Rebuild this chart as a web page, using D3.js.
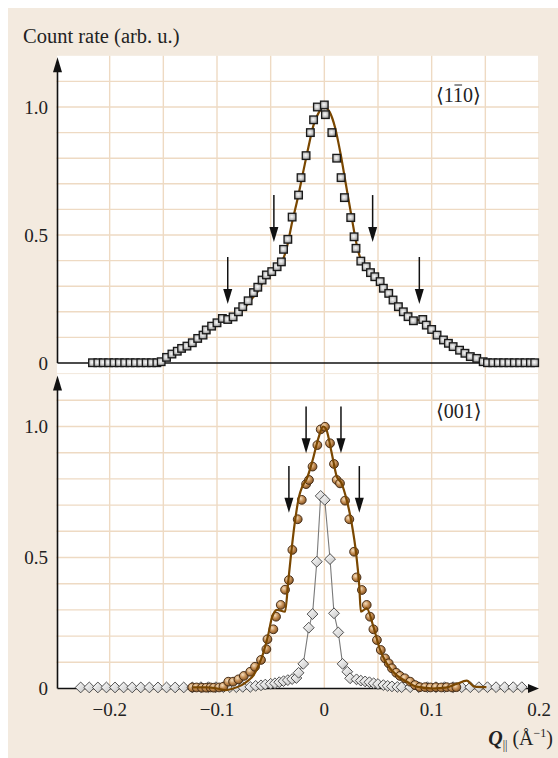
<!DOCTYPE html>
<html>
<head>
<meta charset="utf-8">
<script src="https://cdn.jsdelivr.net/npm/d3@7"></script>
<style>
  body { margin: 0; background: #fff; }
  text { font-family: "Liberation Serif", "DejaVu Serif", serif; fill: #222; }
</style>
</head>
<body>
<svg id="chart" width="558" height="758"></svg>
<script>
// top panel <1-10>: measured squares
var topX = [-0.216, -0.211, -0.206, -0.201, -0.196, -0.191, -0.186, -0.181, -0.176, -0.171, -0.166, -0.161, -0.156,
  -0.152, -0.147, -0.142, -0.137, -0.133, -0.128, -0.123, -0.118, -0.113, -0.110, -0.105, -0.100, -0.095, -0.090,
  -0.085, -0.080, -0.076, -0.071, -0.066, -0.062, -0.058, -0.054, -0.049, -0.044, -0.040, -0.038, -0.034, -0.030,
  -0.024, -0.0217, -0.017, -0.013, -0.010, -0.0065, 0.000, 0.001, 0.007, 0.0115, 0.0156, 0.0187, 0.0246, 0.0277,
  0.0295, 0.034, 0.039, 0.043, 0.047, 0.052, 0.055, 0.060, 0.064, 0.069, 0.0736, 0.078, 0.083, 0.0917, 0.095,
  0.100, 0.105, 0.111, 0.1156, 0.120, 0.126, 0.131, 0.136, 0.142, 0.148, 0.152, 0.157, 0.162, 0.167, 0.172,
  0.177, 0.182, 0.187, 0.192, 0.196];
var topY = [0.001, 0.001, 0.001, 0.001, 0.001, 0.001, 0.001, 0.001, 0.001, 0.001, 0.001, 0.001, 0.001,
  0.005, 0.022, 0.035, 0.046, 0.057, 0.066, 0.079, 0.096, 0.109, 0.129, 0.144, 0.157, 0.174, 0.170,
  0.180, 0.200, 0.220, 0.243, 0.275, 0.296, 0.324, 0.344, 0.357, 0.376, 0.395, 0.444, 0.483, 0.570,
  0.656, 0.724, 0.810, 0.900, 0.950, 1.000, 1.008, 0.970, 0.900, 0.800, 0.724, 0.646, 0.568, 0.493,
  0.448, 0.398, 0.376, 0.353, 0.337, 0.318, 0.292, 0.272, 0.246, 0.220, 0.200, 0.181, 0.165, 0.170, 0.148,
  0.131, 0.109, 0.090, 0.077, 0.064, 0.050, 0.038, 0.025, 0.018, 0.005, 0.001, 0.001, 0.001, 0.001, 0.001,
  0.001, 0.001, 0.001, 0.001, 0.001];

// top panel fit curve
var topFitX = [-0.153, -0.145, -0.135, -0.125, -0.115, -0.105, -0.097, -0.090, -0.083, -0.075, -0.068, -0.062,
  -0.057, -0.050, -0.044, -0.039, -0.035, -0.030, -0.025, -0.020, -0.015, -0.010, -0.005, 0.000, 0.005, 0.010,
  0.015, 0.020, 0.025, 0.030, 0.035, 0.040, 0.045, 0.050, 0.055, 0.060, 0.065, 0.070, 0.075, 0.080, 0.085,
  0.090, 0.095, 0.100, 0.105, 0.110, 0.115, 0.120, 0.125, 0.130, 0.135, 0.140, 0.145, 0.150, 0.200];
var topFitY = [0.000, 0.020, 0.045, 0.070, 0.100, 0.140, 0.163, 0.170, 0.183, 0.212, 0.248, 0.280,
  0.318, 0.350, 0.375, 0.400, 0.450, 0.550, 0.640, 0.740, 0.840, 0.930, 0.980, 1.000, 0.980, 0.920,
  0.820, 0.700, 0.580, 0.465, 0.392, 0.365, 0.345, 0.320, 0.295, 0.270, 0.245, 0.215, 0.195, 0.180, 0.170,
  0.165, 0.148, 0.130, 0.110, 0.090, 0.075, 0.060, 0.048, 0.035, 0.024, 0.015, 0.006, 0.000, 0.000];

// bottom panel <001>: circles
var botX = [-0.123, -0.119, -0.114, -0.110, -0.106, -0.103, -0.098, -0.094, -0.0895, -0.085, -0.080, -0.075,
  -0.069, -0.0646, -0.059, -0.054, -0.053, -0.0475, -0.045, -0.0406, -0.0366, -0.033, -0.0298, -0.0248, -0.021,
  -0.017, -0.0143, -0.011, -0.0065, -0.0034, 0.0006, 0.0053, 0.009, 0.0115, 0.0146, 0.0193, 0.0233, 0.0277,
  0.030, 0.035, 0.0395, 0.0426, 0.0457, 0.049, 0.0526, 0.0566, 0.060, 0.063, 0.067, 0.0705, 0.075, 0.080,
  0.0845, 0.089, 0.094, 0.099, 0.104, 0.109, 0.114, 0.119, 0.123];
var botY = [0.004, 0.004, 0.003, 0.003, 0.004, 0.003, 0.004, 0.007, 0.026, 0.026, 0.035, 0.048,
  0.064, 0.083, 0.109, 0.150, 0.188, 0.226, 0.274, 0.319, 0.377, 0.414, 0.529, 0.646, 0.720,
  0.780, 0.796, 0.847, 0.929, 0.989, 0.999, 0.936, 0.857, 0.796, 0.783, 0.717, 0.646, 0.522,
  0.424, 0.376, 0.319, 0.274, 0.226, 0.185, 0.147, 0.115, 0.096, 0.077, 0.060, 0.048, 0.039, 0.026,
  0.013, 0.005, 0.005, 0.004, 0.005, 0.004, 0.005, 0.004, 0.005];

// bottom panel fit curve
var botFitX = [-0.123, -0.110, -0.100, -0.092, -0.085, -0.077, -0.071, -0.066, -0.061, -0.057, -0.052, -0.049,
  -0.044, -0.0366, -0.0335, -0.028, -0.0236, -0.0206, -0.0164, -0.011, -0.0056, -0.001, 0.002, 0.0069, 0.0115,
  0.016, 0.0208, 0.0255, 0.0296, 0.0326, 0.034, 0.0395, 0.0457, 0.052, 0.058, 0.0675, 0.0768, 0.086, 0.1016,
  0.113, 0.123, 0.1327, 0.140, 0.151];
var botFitY = [0.004, 0.004, 0.000, -0.006, 0.000, 0.013, 0.030, 0.050, 0.090, 0.134, 0.210, 0.268,
  0.300, 0.293, 0.414, 0.618, 0.732, 0.770, 0.800, 0.870, 0.955, 1.000, 0.987, 0.898, 0.810,
  0.783, 0.720, 0.630, 0.516, 0.389, 0.293, 0.306, 0.236, 0.147, 0.096, 0.050, 0.026, 0.007, 0.000,
  0.003, 0.017, 0.030, 0.007, 0.005];

// bottom panel: diamonds
var diaX = [-0.227, -0.219, -0.211, -0.203, -0.195, -0.187, -0.179, -0.171, -0.163, -0.155, -0.147, -0.139,
  -0.131, -0.123, -0.115, -0.108, -0.101, -0.094, -0.088, -0.082, -0.076, -0.069, -0.064, -0.059, -0.055,
  -0.050, -0.046, -0.042, -0.038, -0.034, -0.030, -0.026, -0.024, -0.0196, -0.0145, -0.011, -0.007, -0.0034,
  0.0004, 0.0053, 0.009, 0.013, 0.017, 0.0214, 0.024, 0.030, 0.034, 0.038, 0.042, 0.046, 0.050, 0.055,
  0.059, 0.063, 0.068, 0.072, 0.080, 0.088, 0.096, 0.104, 0.112, 0.120, 0.128, 0.136, 0.144, 0.152, 0.160,
  0.168, 0.176, 0.184];
var diaY = [0.004, 0.004, 0.004, 0.004, 0.004, 0.004, 0.004, 0.004, 0.004, 0.004, 0.004, 0.004,
  0.004, 0.004, 0.005, 0.005, 0.005, 0.005, 0.005, 0.005, 0.006, 0.006, 0.010, 0.012, 0.015,
  0.018, 0.020, 0.024, 0.028, 0.032, 0.036, 0.040, 0.060, 0.094, 0.232, 0.284, 0.484, 0.735,
  0.720, 0.494, 0.287, 0.214, 0.094, 0.064, 0.039, 0.035, 0.030, 0.027, 0.024, 0.020, 0.017, 0.013,
  0.010, 0.008, 0.006, 0.005, 0.005, 0.005, 0.005, 0.005, 0.005, 0.005, 0.005, 0.005, 0.005, 0.005, 0.005,
  0.005, 0.005, 0.005];

// arrows marking the shoulders
var topArrowX = [-0.090, -0.047, 0.045, 0.0885];
var topArrowFrom = [0.414, 0.656, 0.656, 0.414];
var topArrowTo = [0.230, 0.473, 0.473, 0.230];
var botArrowX = [-0.033, -0.017, 0.0155, 0.0326];
var botArrowFrom = [0.849, 1.076, 1.076, 0.849];
var botArrowTo = [0.671, 0.898, 0.898, 0.671];

var xTicks = [-0.2, -0.1, 0, 0.1, 0.2];
var yTicks = [0, 0.5, 1.0];

var svg = d3.select('#chart');
var defs = svg.append('defs');

var sq = defs.append('radialGradient').attr('id', 'sqFill').attr('cx', '45%').attr('cy', '45%').attr('r', '65%');
sq.append('stop').attr('offset', '0%').attr('stop-color', '#fafafa');
sq.append('stop').attr('offset', '55%').attr('stop-color', '#c2c2c2');
sq.append('stop').attr('offset', '100%').attr('stop-color', '#6a6a6a');

var ci = defs.append('radialGradient').attr('id', 'ciFill').attr('cx', '38%').attr('cy', '35%').attr('r', '70%');
ci.append('stop').attr('offset', '0%').attr('stop-color', '#f5dfc0');
ci.append('stop').attr('offset', '50%').attr('stop-color', '#c38c52');
ci.append('stop').attr('offset', '100%').attr('stop-color', '#7d4e1f');

var di = defs.append('linearGradient').attr('id', 'diFill').attr('x1', '0%').attr('y1', '0%').attr('x2', '100%').attr('y2', '100%');
di.append('stop').attr('offset', '0%').attr('stop-color', '#ffffff');
di.append('stop').attr('offset', '100%').attr('stop-color', '#c4c4c4');

// background
svg.append('rect').attr('x', 8).attr('y', 8).attr('width', 550).attr('height', 750).attr('fill', '#f3eadf');

var x = d3.scaleLinear().domain([-0.25, 0.2]).range([56, 539]);
var yTop = d3.scaleLinear().domain([0, 1.2]).range([363, 55.8]);
var yBot = d3.scaleLinear().domain([0, 1.2]).range([688.5, 374.1]);

function panel(y, bottomPx) {
  var g = svg.append('g');
  g.append('rect')
    .attr('x', x(-0.25) + 1).attr('y', y(1.2))
    .attr('width', x(0.2) - x(-0.25) - 2).attr('height', bottomPx - y(1.2))
    .attr('fill', '#fff');
  var grid = g.append('g').attr('stroke', '#eedac3').attr('stroke-width', 1.4);
  grid.selectAll('line.v').data(d3.range(-0.2, 0.2, 0.05)).enter().append('line')
    .attr('x1', function (d) { return x(d); }).attr('x2', function (d) { return x(d); })
    .attr('y1', y(1.2)).attr('y2', bottomPx);
  grid.selectAll('line.h').data(d3.range(0.1, 1.15, 0.1)).enter().append('line')
    .attr('x1', x(-0.25)).attr('x2', x(0.2))
    .attr('y1', function (d) { return y(d); }).attr('y2', function (d) { return y(d); });
  return g;
}

function axes(y, xArrow) {
  var g = svg.append('g');
  g.append('line').attr('x1', x(-0.25) + 1.5).attr('x2', x(-0.25) + 1.5)
    .attr('y1', y(0)).attr('y2', y(1.2) + 10)
    .attr('stroke', '#111').attr('stroke-width', 1.6);
  var ax = x(-0.25) + 1.5, ay = y(1.2) + 1.5;
  g.append('path').attr('d', 'M' + ax + ',' + ay + 'L' + (ax - 4.5) + ',' + (ay + 15) + 'L' + (ax + 4.5) + ',' + (ay + 15) + 'Z')
    .attr('fill', '#111');
  g.append('line').attr('x1', x(-0.25) + 1.5).attr('x2', xArrow ? x(0.2) - 6 : x(0.2) - 1)
    .attr('y1', y(0)).attr('y2', y(0))
    .attr('stroke', '#111').attr('stroke-width', 1.4);
  if (xArrow) {
    var bx = x(0.2), by = y(0);
    g.append('path').attr('d', 'M' + bx + ',' + by + 'L' + (bx - 11) + ',' + (by - 4.5) + 'L' + (bx - 11) + ',' + (by + 4.5) + 'Z')
      .attr('fill', '#111');
  }
  g.selectAll('text.yt').data(yTicks).enter().append('text')
    .attr('x', 48).attr('y', function (d) { return y(d); })
    .attr('dy', '0.35em').attr('text-anchor', 'end').attr('font-size', 19)
    .text(function (d) { return d === 0 ? '0' : d.toFixed(1); });
}

function arrows(y, xs, from, to) {
  var g = svg.append('g');
  xs.forEach(function (d, i) {
    var px = x(d), p0 = y(from[i]), p1 = y(to[i]);
    g.append('line').attr('x1', px).attr('x2', px).attr('y1', p0).attr('y2', p1 - 10)
      .attr('stroke', '#111').attr('stroke-width', 1.5);
    g.append('path').attr('d', 'M' + px + ',' + p1 + 'L' + (px - 4.5) + ',' + (p1 - 15) + 'L' + (px + 4.5) + ',' + (p1 - 15) + 'Z')
      .attr('fill', '#111');
  });
}

var line = function (y) {
  return d3.line()
    .x(function (d) { return x(d[0]); })
    .y(function (d) { return y(d[1]); })
    .curve(d3.curveMonotoneX);
};

// ---- top panel
panel(yTop, 373);
axes(yTop, false);
arrows(yTop, topArrowX, topArrowFrom, topArrowTo);

svg.append('path').datum(d3.zip(topFitX, topFitY))
  .attr('d', line(yTop)).attr('fill', 'none').attr('stroke', '#7a4700').attr('stroke-width', 2.2);

svg.append('g').selectAll('rect').data(d3.zip(topX, topY)).enter().append('rect')
  .attr('x', function (d) { return x(d[0]) - 3.8; })
  .attr('y', function (d) { return yTop(d[1]) - 3.8; })
  .attr('width', 7.6).attr('height', 7.6)
  .attr('fill', 'url(#sqFill)').attr('stroke', '#1a1a1a').attr('stroke-width', 1.3);

var lab = svg.append('text').attr('x', 436).attr('y', 102).attr('font-size', 20);
lab.append('tspan').text('⟨1');
var barStart = lab.append('tspan').text('1');
lab.append('tspan').text('0⟩');
// overbar on the second index
var l1 = lab.node().getSubStringLength(0, 2);
var l2 = lab.node().getSubStringLength(2, 1);
svg.append('line').attr('x1', 436 + l1 + 1).attr('x2', 436 + l1 + l2 - 1).attr('y1', 85).attr('y2', 85)
  .attr('stroke', '#222').attr('stroke-width', 1);

// ---- bottom panel
panel(yBot, 689);
axes(yBot, true);
arrows(yBot, botArrowX, botArrowFrom, botArrowTo);

svg.append('path').datum(d3.zip(diaX, diaY))
  .attr('d', d3.line().x(function (d) { return x(d[0]); }).y(function (d) { return yBot(d[1]); }))
  .attr('fill', 'none').attr('stroke', '#7a7a7a').attr('stroke-width', 1.1);

svg.append('g').selectAll('path').data(d3.zip(diaX, diaY)).enter().append('path')
  .attr('d', 'M0,-5.4L5.4,0L0,5.4L-5.4,0Z')
  .attr('transform', function (d) { return 'translate(' + x(d[0]) + ',' + yBot(d[1]) + ')'; })
  .attr('fill', 'url(#diFill)').attr('stroke', '#404040').attr('stroke-width', 0.9);

svg.append('g').selectAll('circle').data(d3.zip(botX, botY)).enter().append('circle')
  .attr('cx', function (d) { return x(d[0]); })
  .attr('cy', function (d) { return yBot(d[1]); })
  .attr('r', 4.4)
  .attr('fill', 'url(#ciFill)').attr('stroke', '#3b2410').attr('stroke-width', 0.9);

svg.append('path').datum(d3.zip(botFitX, botFitY))
  .attr('d', line(yBot)).attr('fill', 'none').attr('stroke', '#7a4700').attr('stroke-width', 2.2);

svg.append('text').attr('x', 436).attr('y', 418).attr('font-size', 20).text('⟨001⟩');

// x tick labels
svg.append('g').selectAll('text').data(xTicks).enter().append('text')
  .attr('x', function (d) { return x(d); }).attr('y', 716)
  .attr('text-anchor', 'middle').attr('font-size', 19)
  .text(function (d) { return d === 0 ? '0' : (d < 0 ? '−' : '') + Math.abs(d).toFixed(1); });

// axis titles
svg.append('text').attr('x', 23).attr('y', 43).attr('font-size', 20.5).text('Count rate (arb. u.)');
var xl = svg.append('text').attr('x', 553).attr('y', 745).attr('text-anchor', 'end').attr('font-size', 20);
xl.append('tspan').attr('font-weight', 'bold').attr('font-style', 'italic').text('Q');
xl.append('tspan').attr('font-size', 12).attr('dy', 4).text('||');
xl.append('tspan').attr('dy', -4).text(' (Å');
xl.append('tspan').attr('font-size', 12).attr('dy', -8).text('−1');
xl.append('tspan').attr('dy', 8).text(')');
</script>
</body>
</html>
